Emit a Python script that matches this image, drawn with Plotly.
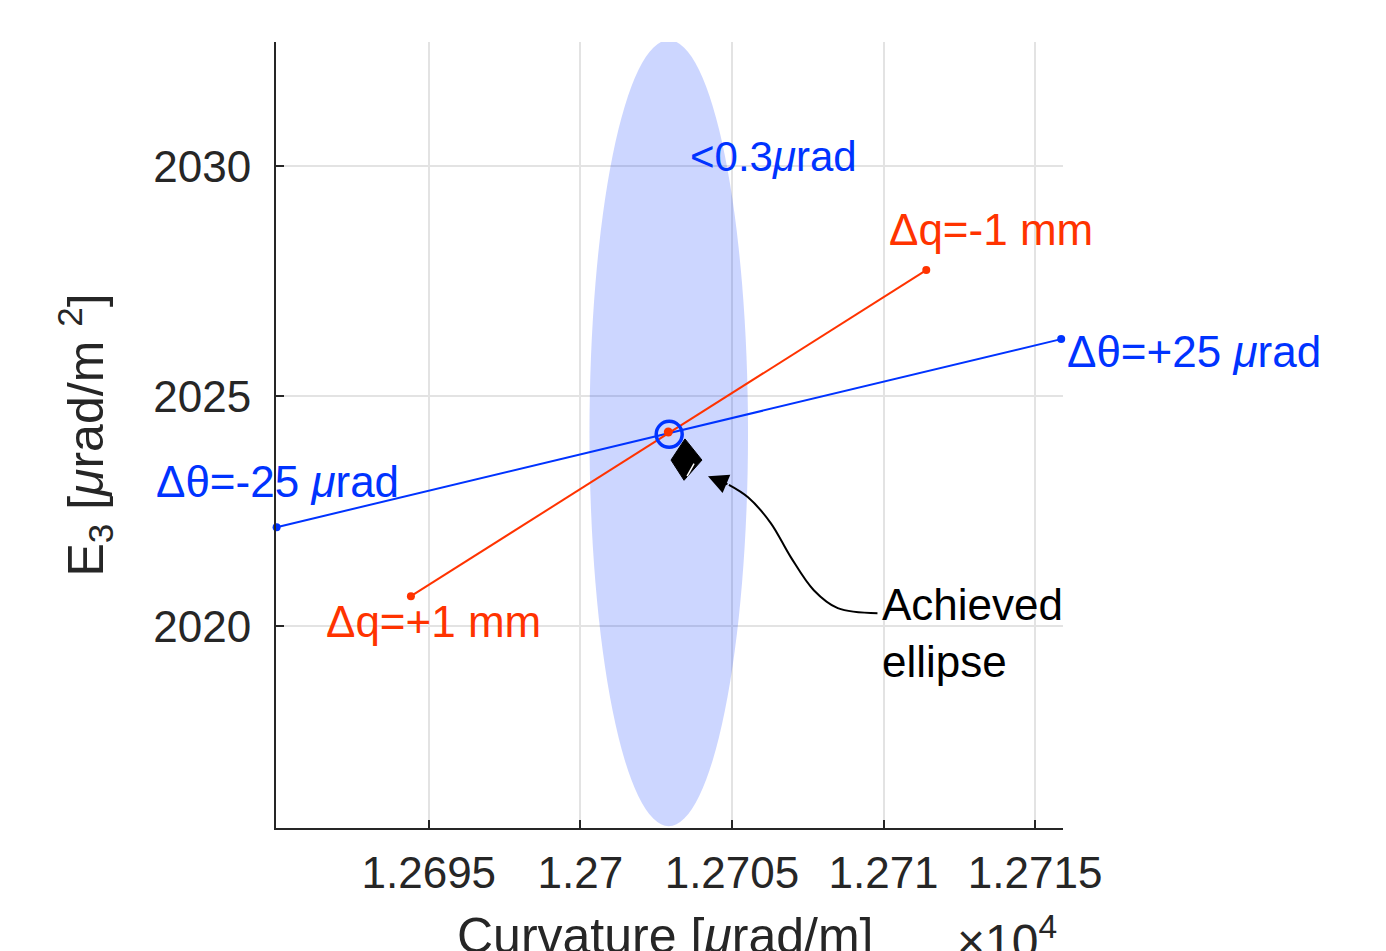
import plotly.graph_objects as go

# ---- data (x in raw units, displayed as x10^4) ----
x_ticks = [12695, 12700, 12705, 12710, 12715]
x_ticklabels = ["1.2695", "1.27", "1.2705", "1.271", "1.2715"]
y_ticks = [2020, 2025, 2030]
y_ticklabels = ["2020", "2025", "2030"]

theta_line_x = [12689.98, 12715.86]   # Δθ = -25 .. +25 µrad
theta_line_y = [2022.15, 2026.24]
q_line_x = [12694.41, 12711.41]      # Δq = +1 .. -1 mm
q_line_y = [2020.65, 2027.74]

nominal_x = [12702.93]
nominal_y = [2024.17]
nominal_red_x = [12702.90]
nominal_red_y = [2024.22]

# tolerance ellipse bounds (<0.3 µrad)
tol_ellipse_x = [12700.30, 12705.53]
tol_ellipse_y = [2015.65, 2032.74]

# achieved ellipse (thin rotated ellipse, seen as a diamond)
achieved_x = [12702.99, 12703.45, 12704.01, 12703.42, 12702.99]
achieved_y = [2023.61, 2024.07, 2023.61, 2023.17, 2023.61]
achieved_inner_x = [12703.52, 12703.75]
achieved_inner_y = [2023.26, 2023.53]

# curved arrow path to "Achieved ellipse"
arrow_x = [12709.80, 12708.49, 12707.70, 12706.94, 12706.28, 12705.53, 12704.90]
arrow_y = [2020.28, 2020.39, 2020.78, 2021.50, 2022.24, 2022.80, 2023.07]
arrow_tip_x = [12704.21]
arrow_tip_y = [2023.26]

X_RANGE = [12689.96, 12715.92]
Y_RANGE = [2015.61, 2032.70]

BLUE = "#0033ff"
RED = "#ff3300"
FONT = "Liberation Sans, Arial, Helvetica, sans-serif"
TXT = "#262626"

fig = go.Figure()

fig.add_shape(type="circle", xref="x", yref="y",
              x0=tol_ellipse_x[0], x1=tol_ellipse_x[1],
              y0=tol_ellipse_y[0], y1=tol_ellipse_y[1],
              fillcolor="rgba(0,51,255,0.2)", line=dict(width=0),
              layer="between")

fig.add_trace(go.Scatter(x=theta_line_x, y=theta_line_y, mode="lines+markers",
                         line=dict(color=BLUE, width=2),
                         marker=dict(color=BLUE, size=8), cliponaxis=False,
                         showlegend=False, hoverinfo="skip"))
fig.add_trace(go.Scatter(x=q_line_x, y=q_line_y, mode="lines+markers",
                         line=dict(color=RED, width=2),
                         marker=dict(color=RED, size=8), cliponaxis=False,
                         showlegend=False, hoverinfo="skip"))
fig.add_trace(go.Scatter(x=nominal_red_x, y=nominal_red_y, mode="markers",
                         marker=dict(color=RED, size=9),
                         showlegend=False, hoverinfo="skip"))
fig.add_trace(go.Scatter(x=nominal_x, y=nominal_y, mode="markers",
                         marker=dict(symbol="circle-open", color=BLUE, size=26,
                                     line=dict(width=3.5, color=BLUE)),
                         showlegend=False, hoverinfo="skip"))
fig.add_trace(go.Scatter(x=achieved_x, y=achieved_y, mode="lines", fill="toself",
                         fillcolor="black", line=dict(color="black", width=1),
                         showlegend=False, hoverinfo="skip"))
fig.add_trace(go.Scatter(x=achieved_inner_x, y=achieved_inner_y, mode="lines",
                         line=dict(color="white", width=1.5),
                         showlegend=False, hoverinfo="skip"))
fig.add_trace(go.Scatter(x=arrow_x, y=arrow_y, mode="lines",
                         line=dict(color="black", width=2, shape="spline", smoothing=1.0),
                         showlegend=False, hoverinfo="skip"))

fig.add_annotation(x=arrow_tip_x[0], y=arrow_tip_y[0], ax=arrow_x[-1], ay=arrow_y[-1],
                   xref="x", yref="y", axref="x", ayref="y", text="",
                   showarrow=True, arrowhead=2, arrowsize=2.0, arrowwidth=2,
                   arrowcolor="black", standoff=0)


def px(x):
    return (x - X_RANGE[0]) / (X_RANGE[1] - X_RANGE[0])


def py(y):
    return (y - Y_RANGE[0]) / (Y_RANGE[1] - Y_RANGE[0])


def txt(x, y, s, color, size=44):
    fig.add_annotation(x=px(x), y=py(y), xref="paper", yref="paper", text=s,
                       showarrow=False, xanchor="left", yanchor="middle", align="left",
                       font=dict(family=FONT, size=size, color=color))


txt(12703.55, 2030.2, "&lt;0.3<i>μ</i>rad", BLUE, 42)
txt(12710.13, 2028.63, "Δq=-1 mm", RED)
txt(12716.00, 2025.96, "Δθ=+25 <i>μ</i>rad", BLUE)
txt(12685.95, 2023.15, "Δθ=-25 <i>μ</i>rad", BLUE)
txt(12691.55, 2020.09, "Δq=+1 mm", RED)
txt(12709.90, 2019.85, "Achieved<br>ellipse", "black")

# x-axis title (placed as paper text so it sits low, partly cut like the original)
fig.add_annotation(x=(665 - 276) / 787, y=(828 - 936) / 786, xref="paper", yref="paper",
                   text="Curvature [<i>μ</i>rad/m]", showarrow=False,
                   xanchor="center", yanchor="middle",
                   font=dict(family=FONT, size=50, color=TXT))

# x10^4 exponent label
fig.add_annotation(x=(955 - 276) / 787, y=(828 - 938) / 786, xref="paper", yref="paper",
                   text="×10<sup>4</sup>", showarrow=False, xanchor="left", yanchor="middle",
                   font=dict(family=FONT, size=48, color=TXT))

fig.update_layout(
    width=1378, height=943,
    margin=dict(l=268, r=323, t=34, b=123, autoexpand=False),
    plot_bgcolor="white", paper_bgcolor="white",
    font=dict(family=FONT, color=TXT),
    xaxis=dict(range=X_RANGE, tickvals=x_ticks, ticktext=x_ticklabels,
               automargin=False,
               showgrid=True, gridcolor="#e3e3e3", gridwidth=2,
               showline=True, linecolor=TXT, linewidth=2,
               ticks="inside", ticklen=8, tickwidth=2, tickcolor=TXT,
               tickfont=dict(size=44, color=TXT), zeroline=False,
               ticklabelstandoff=5),
    yaxis=dict(range=Y_RANGE, tickvals=y_ticks, ticktext=y_ticklabels,
               automargin=False,
               showgrid=True, gridcolor="#e3e3e3", gridwidth=2,
               showline=True, linecolor=TXT, linewidth=2,
               ticks="inside", ticklen=8, tickwidth=2, tickcolor=TXT,
               tickfont=dict(size=44, color=TXT), zeroline=False,
               ticklabelstandoff=14,
               title=dict(text="E<sub>3</sub> [<i>μ</i>rad/m <sup>2</sup>]",
                          font=dict(size=50, color=TXT), standoff=34)),
)

fig.write_html("out.html")
